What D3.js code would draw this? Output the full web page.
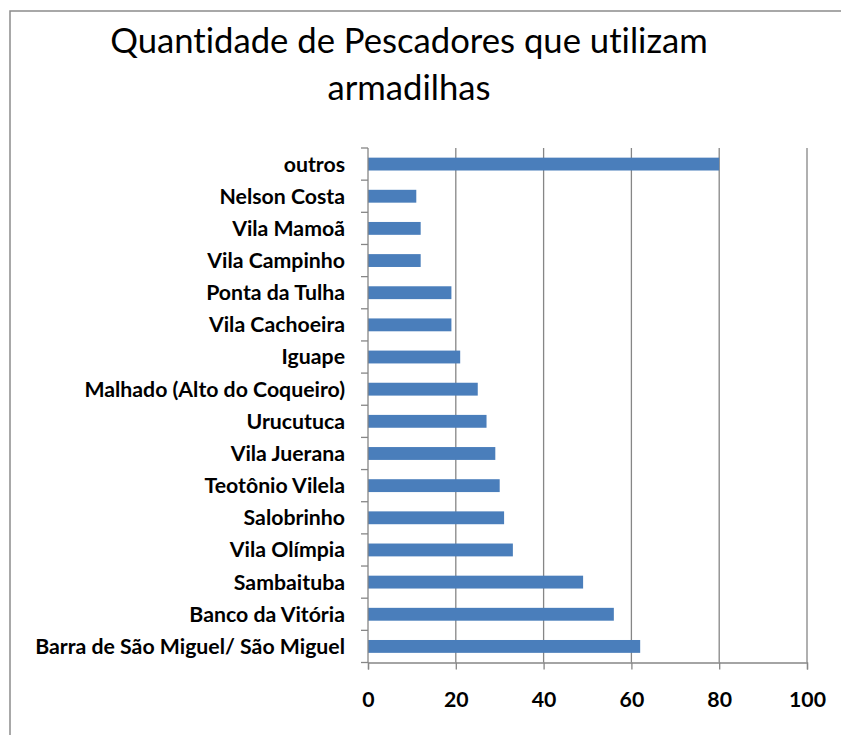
<!DOCTYPE html>
<html>
<head>
<meta charset="utf-8">
<script src="https://cdn.jsdelivr.net/npm/d3@7"></script>
<style>
  html, body { margin: 0; padding: 0; background: #fff; }
  svg { display: block; }
  text { font-variant-ligatures: none; font-feature-settings: "liga" 0; }
</style>
</head>
<body>
<div id="chart"></div>
<script>
// Localidades (top to bottom as drawn) and number of fishermen using traps
const categories = [
  "outros",
  "Nelson Costa",
  "Vila Mamoã",
  "Vila Campinho",
  "Ponta da Tulha",
  "Vila Cachoeira",
  "Iguape",
  "Malhado (Alto do Coqueiro)",
  "Urucutuca",
  "Vila Juerana",
  "Teotônio Vilela",
  "Salobrinho",
  "Vila Olímpia",
  "Sambaituba",
  "Banco da Vitória",
  "Barra de São Miguel/ São Miguel"
];
const values = [80, 11, 12, 12, 19, 19, 21, 25, 27, 29, 30, 31, 33, 49, 56, 62];
const xTicks = [0, 20, 40, 60, 80, 100];
const titleLines = ["Quantidade de Pescadores que utilizam", "armadilhas"];

const W = 841, H = 735;
const plot = { left: 368, right: 807, top: 148, bottom: 662.5 };
const fontFamily = "Lato, 'Open Sans', sans-serif";

const svg = d3.select("#chart").append("svg")
  .attr("width", W).attr("height", H);

// chart area frame (only top and left edges fall inside the view)
svg.append("rect")
  .attr("x", 10).attr("y", 11)
  .attr("width", W + 20).attr("height", H + 20)
  .attr("fill", "#fff")
  .attr("stroke", "#8c8c8c").attr("stroke-width", 1.5);

// title, fitted to the width of its first line
const title = svg.append("text")
  .attr("text-anchor", "middle")
  .attr("font-family", fontFamily)
  .attr("font-size", 31)
  .attr("fill", "#000");
title.selectAll("tspan").data(titleLines).join("tspan")
  .attr("x", 409)
  .attr("y", (d, i) => 53 + i * 47)
  .text(d => d);
{
  const first = title.select("tspan").node();
  const w = first.getComputedTextLength();
  title.attr("font-size", 31 * 598 / w);
}

const x = d3.scaleLinear().domain([0, 100]).range([plot.left, plot.right]);
const y = d3.scaleBand().domain(categories)
  .range([plot.top, plot.bottom]).paddingInner(0.6).paddingOuter(0.3);

// vertical gridlines
svg.append("g").selectAll("line")
  .data(xTicks.filter(t => t > 0))
  .join("line")
  .attr("x1", d => x(d)).attr("x2", d => x(d))
  .attr("y1", plot.top).attr("y2", plot.bottom)
  .attr("stroke", "#868686").attr("stroke-width", 1.3);

// bars
svg.append("g").selectAll("rect")
  .data(categories.map((c, i) => ({ c, v: values[i] })))
  .join("rect")
  .attr("x", x(0))
  .attr("y", d => y(d.c))
  .attr("width", d => x(d.v) - x(0))
  .attr("height", y.bandwidth())
  .attr("fill", "#4a7ebb");

// category axis: ticks at band boundaries
const bandStep = (plot.bottom - plot.top) / categories.length;
const yAxis = svg.append("g");
yAxis.append("line")
  .attr("x1", plot.left).attr("x2", plot.left)
  .attr("y1", plot.top).attr("y2", plot.bottom)
  .attr("stroke", "#868686").attr("stroke-width", 1.3);
yAxis.selectAll("line.tick")
  .data(d3.range(categories.length + 1))
  .join("line").attr("class", "tick")
  .attr("x1", plot.left - 7).attr("x2", plot.left)
  .attr("y1", i => plot.top + i * bandStep)
  .attr("y2", i => plot.top + i * bandStep)
  .attr("stroke", "#868686").attr("stroke-width", 1.3);
const catLabels = yAxis.selectAll("text")
  .data(categories)
  .join("text")
  .attr("x", 345)
  .attr("y", d => y(d) + y.bandwidth() / 2)
  .attr("dy", "0.35em")
  .attr("text-anchor", "end")
  .attr("font-family", fontFamily)
  .attr("font-weight", "bold")
  .attr("font-size", 18)
  .attr("fill", "#000")
  .text(d => d);
{
  const longest = catLabels.filter(d => d === categories[categories.length - 1]).node();
  const w = longest.getComputedTextLength();
  const fs = 18 * 310 / w;
  catLabels.attr("font-size", fs);
}

// value axis
const xAxis = d3.axisBottom(x).tickValues(xTicks).tickSize(7).tickPadding(22);
const gx = svg.append("g")
  .attr("transform", `translate(0,${plot.bottom})`)
  .call(xAxis);
gx.select(".domain").attr("stroke", "#868686").attr("stroke-width", 1.3);
gx.selectAll(".tick line").attr("stroke", "#868686").attr("stroke-width", 1.3);
gx.selectAll(".tick text")
  .attr("font-family", fontFamily)
  .attr("font-weight", "bold")
  .attr("font-size", catLabels.attr("font-size"))
  .attr("fill", "#000");
</script>
</body>
</html>
